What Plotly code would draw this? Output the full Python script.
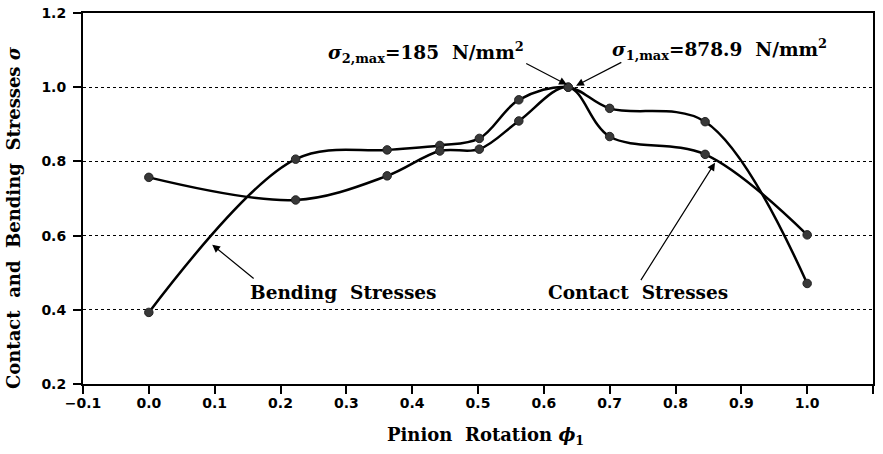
import plotly.graph_objects as go

# Pinion rotation (normalised) at the computed contact positions
phi = [0.0, 0.223, 0.362, 0.442, 0.502, 0.562, 0.637, 0.700, 0.845, 1.0]

# Normalised stresses (sigma / sigma_max)
bending = [0.393, 0.806, 0.831, 0.843, 0.862, 0.966, 1.0, 0.943, 0.907, 0.471]
contact = [0.757, 0.696, 0.761, 0.828, 0.833, 0.909, 1.0, 0.867, 0.819, 0.602]

x_ticks = [-0.1, 0.0, 0.1, 0.2, 0.3, 0.4, 0.5, 0.6, 0.7, 0.8, 0.9, 1.0, 1.1]
x_tick_text = ["\u22120.1", "0.0", "0.1", "0.2", "0.3", "0.4", "0.5", "0.6",
               "0.7", "0.8", "0.9", "1.0", "1.1"]
y_ticks = [0.2, 0.4, 0.6, 0.8, 1.0, 1.2]
y_tick_text = ["0.2", "0.4", "0.6", "0.8", "1.0", "1.2"]

SERIF = "DejaVu Serif"
SANS = "DejaVu Sans"

fig = go.Figure()
for name, vals in [("Bending Stresses", bending), ("Contact Stresses", contact)]:
    fig.add_trace(go.Scatter(
        x=phi, y=vals, name=name, mode="lines+markers",
        line=dict(color="black", width=2.5, shape="spline", smoothing=1.0),
        marker=dict(color="#383838", size=8.5, line=dict(color="#222222", width=1)),
        showlegend=False,
    ))

axis_common = dict(
    showline=True, linecolor="black", linewidth=2, mirror=True,
    ticks="outside", ticklen=8, tickwidth=2, tickcolor="black",
    tickfont=dict(family=SANS, size=14, color="black", weight="bold"),
    zeroline=False, automargin=False,
)

fig.update_xaxes(range=[-0.1, 1.1], tickvals=x_ticks, ticktext=x_tick_text,
                 showgrid=False, ticklabelstandoff=-3, **axis_common)
fig.update_yaxes(range=[0.2, 1.2], tickvals=y_ticks, ticktext=y_tick_text,
                 showgrid=True, gridcolor="black", gridwidth=1, griddash="dot",
                 ticklabelstandoff=4, **axis_common)

label_font = dict(family=SERIF, size=18.5, color="black", weight="bold")
title_font = dict(family=SERIF, size=18, color="black", weight="bold")
annotations = [
    # axis titles
    dict(xref="paper", yref="paper", x=0.510, y=-0.139,
         text="Pinion  Rotation <i>\u03d5</i><sub>1</sub>",
         showarrow=False, font=title_font,
         xanchor="center", yanchor="middle"),
    dict(xref="paper", yref="paper", x=-0.087, y=0.448, textangle=-90,
         text="Contact  and  Bending  Stresses <i>\u03c3</i>",
         showarrow=False, font=title_font,
         xanchor="center", yanchor="middle"),
    # curve labels
    dict(x=0.2956, y=0.446, text="Bending  Stresses", showarrow=False,
         font=label_font, xanchor="center", yanchor="middle"),
    dict(x=0.7437, y=0.446, text="Contact  Stresses", showarrow=False,
         font=label_font, xanchor="center", yanchor="middle"),
    dict(x=0.421, y=1.093,
         text="<i>\u03c3</i><sub>2,max</sub>=185  N/mm<sup>2</sup>",
         showarrow=False, font=label_font, xanchor="center", yanchor="middle"),
    dict(x=0.8675, y=1.101,
         text="<i>\u03c3</i><sub>1,max</sub>=878.9  N/mm<sup>2</sup>",
         showarrow=False, font=label_font, xanchor="center", yanchor="middle"),
]

# leader arrows: (tip_x, tip_y, tail_x, tail_y) in data units
arrows = [
    (0.635, 1.007, 0.571, 1.066),
    (0.649, 1.004, 0.720, 1.069),
    (0.0963, 0.5755, 0.1615, 0.481),
    (0.860, 0.7965, 0.746, 0.476),
]
for tx, ty, sx, sy in arrows:
    annotations.append(dict(
        x=tx, y=ty, ax=sx, ay=sy, xref="x", yref="y", axref="x", ayref="y",
        text="", showarrow=True, arrowhead=2, arrowsize=1.3, arrowwidth=1.2,
        arrowcolor="black", standoff=0,
    ))

fig.update_layout(
    width=883, height=454,
    margin=dict(l=83, r=10, t=13, b=70),
    paper_bgcolor="white", plot_bgcolor="white",
    annotations=annotations,
)

fig.write_html("out.html")
